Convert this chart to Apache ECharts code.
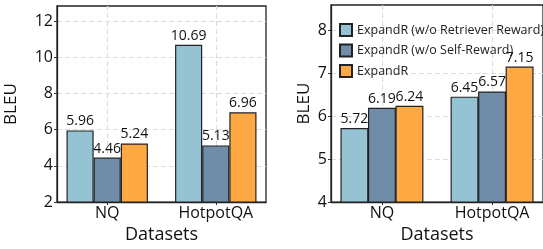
<!DOCTYPE html>
<html>
<head>
<meta charset="utf-8">
<script src="https://cdn.jsdelivr.net/npm/echarts@6/dist/echarts.min.js"></script>
<style>
html,body{margin:0;padding:0;background:#fff;}
#c{width:543px;height:249px;}
</style>
</head>
<body>
<div id="c"></div>
<script>
var categories = ['NQ', 'HotpotQA'];
var seriesNames = ['ExpandR (w/o Retriever Reward)', 'ExpandR (w/o Self-Reward)', 'ExpandR'];
var leftRetrieverFree = [5.96, 10.69];
var leftSelfFree = [4.46, 5.13];
var leftFull = [5.24, 6.96];
var rightRetrieverFree = [5.72, 6.45];
var rightSelfFree = [6.19, 6.57];
var rightFull = [6.24, 7.15];
var leftYMin = 2, leftYMax = 12.83, leftYStep = 2;
var rightYMin = 4, rightYMax = 8.58, rightYStep = 1;

var colors = ['#96c3d3', '#6f8ca9', '#fea944'];
var FONT = 'Open Sans';
var xMin = -0.4625, xMax = 1.4625, barUnit = 0.25;
var gridDash = {color: '#dcdcdc', width: 1.2, type: [5, 3]};

var grids = [
  {left: 57, right: 277, top: 6, bottom: 38},
  {left: 331, right: -3, top: 5, bottom: 38}
];
var W = 543;
function barPx(g) { return barUnit * (W - g.left - g.right) / (xMax - xMin); }

var panels = [
  {values: [leftRetrieverFree, leftSelfFree, leftFull], min: leftYMin, max: leftYMax, step: leftYStep, nameGap: 37},
  {values: [rightRetrieverFree, rightSelfFree, rightFull], min: rightYMin, max: rightYMax, step: rightYStep, nameGap: 18}
];

var xAxes = [], yAxes = [], series = [];
panels.forEach(function (p, pi) {
  xAxes.push({
    type: 'value', gridIndex: pi, min: xMin, max: xMax,
    name: 'Datasets', nameLocation: 'middle', nameGap: 18,
    nameTextStyle: {fontFamily: FONT, fontSize: 18, color: '#111'},
    axisLine: {show: true, onZero: false, lineStyle: {color: '#222', width: 1.3}},
    axisTick: {show: true, customValues: [0, 1], length: 3, lineStyle: {color: '#333'}},
    axisLabel: {customValues: [0, 1], margin: 3, fontFamily: FONT, fontSize: 16, color: '#111',
      formatter: function (v) { return categories[Math.round(v)]; }},
    splitLine: {show: false}
  });
  yAxes.push({
    type: 'value', gridIndex: pi, min: p.min, max: p.max, interval: p.step,
    name: 'BLEU', nameLocation: 'middle', nameGap: p.nameGap,
    nameTextStyle: {fontFamily: FONT, fontSize: 17, color: '#111'},
    axisLine: {show: true, onZero: false, lineStyle: {color: '#222', width: 1.3}},
    axisTick: {show: true, length: 3, lineStyle: {color: '#333'}},
    axisLabel: {showMaxLabel: false, margin: 4, fontFamily: FONT, fontSize: 16, color: '#111'},
    splitLine: {show: true, showMinLine: false, showMaxLine: false, lineStyle: gridDash}
  });
  // vertical category gridlines (behind bars)
  series.push({
    type: 'line', name: 'grid' + pi, xAxisIndex: pi, yAxisIndex: pi, z: 1, data: [],
    markLine: {
      silent: true, symbol: 'none', label: {show: false}, animation: false,
      lineStyle: gridDash,
      data: categories.map(function (c, ci) { return {xAxis: ci}; })
    }
  });
  p.values.forEach(function (vals, si) {
    series.push({
      type: 'bar', name: seriesNames[si], xAxisIndex: pi, yAxisIndex: pi,
      barWidth: barPx(grids[pi]), barGap: '-100%', z: 3, zlevel: 1,
      itemStyle: {color: colors[si], borderColor: '#222', borderWidth: 1.2},
      label: {show: true, position: 'top', distance: 2, fontFamily: FONT, fontSize: 14, color: '#111'},
      data: vals.map(function (v, ci) { return [ci + (si - 1) * barUnit, v]; })
    });
  });
});

var chart = echarts.init(document.getElementById('c'));
chart.setOption({
  animation: false,
  backgroundColor: '#fff',
  grid: grids.map(function (g) {
    return {left: g.left, right: g.right, top: g.top, bottom: g.bottom, show: true,
      borderColor: '#222', borderWidth: 1.3, backgroundColor: 'transparent'};
  }),
  xAxis: xAxes,
  yAxis: yAxes,
  legend: {
    orient: 'vertical', left: 334, top: 17.5, itemWidth: 12, itemHeight: 12, itemGap: 5.5,
    icon: 'rect', zlevel: 1, z: 10,
    textStyle: {fontFamily: FONT, fontSize: 12.5, lineHeight: 15, color: '#222'},
    data: seriesNames
  },
  series: series
});
</script>
</body>
</html>
